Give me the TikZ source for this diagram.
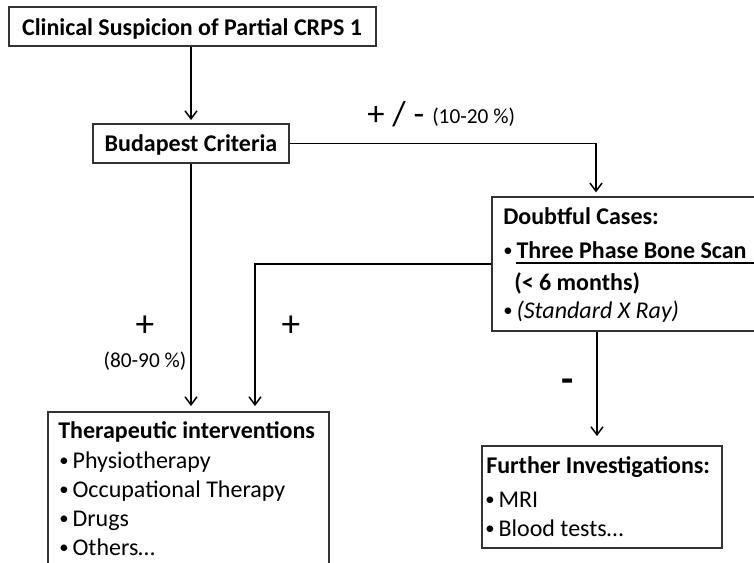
\documentclass[tikz,border=0pt]{standalone}
\usepackage{fontspec}
\setmainfont{Carlito}
\usetikzlibrary{arrows.meta,fit,calc}
\newcommand\bul{\makebox[10pt][l]{\raisebox{1.3pt}{\fontsize{14}{14}\selectfont\mdseries\upshape •}}}
\begin{document}
\begin{tikzpicture}[x=0.75pt,y=-0.75pt,
  box/.style={draw=black!80, line width=1pt, inner sep=0pt},
  conn/.style={line width=1.4pt, -{Straight Barb[length=6pt,width=9pt,line width=1.1pt]}},
  txt/.style={font=\fontsize{18}{21}\selectfont, inner sep=0pt, anchor=base west},
  btxt/.style={font=\fontsize{18}{21}\selectfont\bfseries, inner sep=0pt, anchor=base west},
  big/.style={font=\fontsize{28}{32}\selectfont, inner sep=0pt},
  small/.style={font=\fontsize{16}{19}\selectfont, inner sep=0pt}]
\useasboundingbox (0,0) rectangle (754,562);
\clip (0,0) rectangle (754,562);
% boxes
\node[box, fit={(9,7)(376,46)}] (title) {};
\node[box, fit={(93,124)(289,163)}] (buda) {};
\node[box, fit={(492,197)(775,331)}] (doubt) {};
\node[box, fit={(48,412)(329,580)}] (therap) {};
\node[box, fit={(482,446)(722,548)}] (further) {};
% box texts
\node[btxt, anchor=base] (tt) at (192,35) {Clinical Suspicion of Partial CRPS 1};
\node[btxt, anchor=base] (bt) at (191,151) {Budapest Criteria};
\node[btxt] (d1) at (503,224) {Doubtful Cases:};
\node[btxt] (d2) at (503,258) {\bul Three Phase Bone Scan};
\draw[line width=1.4pt] ($(d2.base west)+(13,5)$) -- ($(d2.base east)+(7,5)$);
\node[btxt] (d3) at (514,290) {(< 6 months)};
\node[txt] (d4) at (503,318) {\bul\textit{(Standard X Ray)}};
\node[btxt] (t1) at (58,438) {Therapeutic interventions};
\node[txt] (t2) at (59,468) {\bul Physiotherapy};
\node[txt] (t3) at (59,497) {\bul Occupational Therapy};
\node[txt] (t4) at (59,526) {\bul Drugs};
\node[txt] (t5) at (59,555) {\bul Others…};
\node[btxt] (f1) at (486,473) {Further Investigations:};
\node[txt] (f2) at (485,507) {\bul MRI};
\node[txt] (f3) at (485,536) {\bul Blood tests…};
% labels
\node[big, font=\fontsize{26}{30}\selectfont, anchor=base west] (pm) at (367,125) {+ / -};
\node[small, anchor=base west] (pmp) at (432,123) {(10-20 \%)};
\node[big] (p1) at (145,326) {+};
\node[small] (p1p) at (145,361) {(80-90 \%)};
\node[big] (p2) at (291,326) {+};
\node[big, font=\fontsize{30}{34}\selectfont\bfseries] (m1) at (568,386) {-};
% connector coordinates
\coordinate (cx1) at (596,0);
\coordinate (cx2) at (255,0);
\coordinate (cx3) at (597,0);
% connectors
\draw[conn, shorten >=2.5pt] (buda.north |- title.south) -- (buda.north);
\draw[conn, shorten >=3pt] (buda.east) -| (cx1 |- doubt.north);
\draw[conn, shorten >=4pt] (buda.south) -- (buda.south |- therap.north);
\draw[conn, shorten >=4pt] (doubt.west) -| (cx2 |- therap.north);
\draw[conn, shorten >=7pt] (cx3 |- doubt.south) -- (cx3 |- further.north);
\end{tikzpicture}
\end{document}
